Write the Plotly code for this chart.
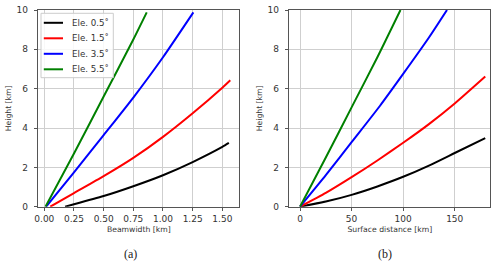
import plotly.graph_objects as go

# ---- data ----
series_names = ["Ele. 0.5˚", "Ele. 1.5˚", "Ele. 3.5˚", "Ele. 5.5˚"]
series_colors = ["#000000", "#ff0000", "#0000ff", "#008000"]

# (a) Beamwidth [km] vs Height [km]
bw_05 = [0.175, 0.25, 0.5, 0.75, 1.0, 1.25, 1.5, 1.555]
h_bw_05 = [0.0, 0.12, 0.54, 1.04, 1.6, 2.27, 3.04, 3.24]
bw_15 = [0.05, 0.25, 0.5, 0.75, 1.0, 1.25, 1.5, 1.567]
h_bw_15 = [0.0, 0.69, 1.55, 2.48, 3.55, 4.75, 6.05, 6.43]
bw_35 = [0.015, 0.25, 0.5, 0.75, 1.0, 1.256]
h_bw_35 = [0.0, 1.74, 3.64, 5.55, 7.6, 9.88]
bw_55 = [0.01, 0.25, 0.5, 0.75, 0.863]
h_bw_55 = [0.0, 2.7, 5.6, 8.5, 9.88]

# (b) Surface distance [km] vs Height [km]
sd_05 = [0, 25, 50, 75, 100, 125, 150, 179.6]
h_sd_05 = [0.0, 0.26, 0.6, 1.03, 1.52, 2.09, 2.73, 3.49]
sd_15 = [0, 25, 50, 75, 100, 125, 150, 179.6]
h_sd_15 = [0.0, 0.7, 1.5, 2.35, 3.25, 4.2, 5.25, 6.62]
sd_35 = [0, 25, 50, 77.4, 100, 125, 142.5]
h_sd_35 = [0.0, 1.6, 3.28, 5.12, 6.75, 8.6, 10.0]
sd_55 = [0, 25, 50, 75, 97.4]
h_sd_55 = [0.0, 2.5, 5.05, 7.6, 10.0]

x_ticks_a = [0.0, 0.25, 0.5, 0.75, 1.0, 1.25, 1.5]
x_ticks_b = [0, 50, 100, 150]
y_ticks = [0, 2, 4, 6, 8, 10]

left_x = [bw_05, bw_15, bw_35, bw_55]
left_y = [h_bw_05, h_bw_15, h_bw_35, h_bw_55]
right_x = [sd_05, sd_15, sd_35, sd_55]
right_y = [h_sd_05, h_sd_15, h_sd_35, h_sd_55]

W, H = 500, 264
fig = go.Figure()

for name, col, xs, ys in zip(series_names, series_colors, left_x, left_y):
    fig.add_trace(go.Scatter(x=xs, y=ys, mode="lines", name=name,
                             line=dict(color=col, width=2, shape="spline", smoothing=0.6),
                             xaxis="x", yaxis="y", showlegend=False))
for name, col, xs, ys in zip(series_names, series_colors, right_x, right_y):
    fig.add_trace(go.Scatter(x=xs, y=ys, mode="lines", name=name,
                             line=dict(color=col, width=2, shape="spline", smoothing=0.6),
                             xaxis="x2", yaxis="y2", showlegend=False))

FONT = "DejaVu Sans"
tick_font = dict(family=FONT, size=9, color="#333333")
title_font = dict(family=FONT, size=7.7, color="#333333")
grid_col = "#cfcfcf"
frame_col = "#555555"

common_axis = dict(showline=True, linecolor=frame_col, linewidth=1, mirror=True,
                   showgrid=True, gridcolor=grid_col, gridwidth=1,
                   ticks="outside", ticklen=3.5, tickcolor=frame_col, tickwidth=1,
                   tickfont=tick_font, zeroline=False, automargin=False)

py0 = (H - 206.7) / H
py1 = (H - 10) / H

def px(x):
    return x / W

def py(y):
    return (H - y) / H

# legend drawn as box + line samples + text labels (matplotlib-like compact legend)
shapes = [dict(type="rect", xref="paper", yref="paper",
               x0=px(41), x1=px(113.3), y0=py(77.7), y1=py(13.3),
               line=dict(color="#cccccc", width=1), fillcolor="rgba(255,255,255,0.85)",
               layer="above")]
annotations = []
row_y = [22.8, 38.3, 53.8, 69.3]
for name, col, ry in zip(series_names, series_colors, row_y):
    shapes.append(dict(type="line", xref="paper", yref="paper",
                       x0=px(43.8), x1=px(63.0), y0=py(ry), y1=py(ry),
                       line=dict(color=col, width=2), layer="above"))
    annotations.append(dict(text=name, x=px(70.3), y=py(ry), xref="paper", yref="paper",
                            showarrow=False, xanchor="left", yanchor="middle",
                            font=dict(family=FONT, size=8.7, color="#333333")))

annotations += [
    dict(text="(a)", x=px(130), y=py(254), xref="paper", yref="paper",
         showarrow=False, xanchor="center", yanchor="middle",
         font=dict(family="Liberation Serif", size=12, color="#222222")),
    dict(text="(b)", x=px(385), y=py(254), xref="paper", yref="paper",
         showarrow=False, xanchor="center", yanchor="middle",
         font=dict(family="Liberation Serif", size=12, color="#222222")),
]

fig.update_layout(
    width=W, height=H,
    margin=dict(l=0, r=0, t=0, b=0),
    paper_bgcolor="white", plot_bgcolor="white",
    showlegend=False,
    xaxis=dict(domain=[px(38.3), px(239.3)], range=[-0.0506, 1.643],
               tickvals=x_ticks_a, ticktext=[f"{v:.2f}" for v in x_ticks_a],
               title=dict(text="Beamwidth [km]", font=title_font, standoff=3),
               anchor="y", **common_axis),
    yaxis=dict(domain=[py0, py1], range=[0, 10], tickvals=y_ticks,
               ticklabelstandoff=4,
               title=dict(text="Height [km]", font=title_font, standoff=3),
               anchor="x", **common_axis),
    xaxis2=dict(domain=[px(289.3), px(490.3)], range=[-10.4, 184.5],
                tickvals=x_ticks_b,
                title=dict(text="Surface distance [km]", font=title_font, standoff=3),
                anchor="y2", **common_axis),
    yaxis2=dict(domain=[py0, py1], range=[0, 10], tickvals=y_ticks,
                ticklabelstandoff=4,
                title=dict(text="Height [km]", font=title_font, standoff=3),
                anchor="x2", **common_axis),
    shapes=shapes,
    annotations=annotations,
)

fig.write_html("out.html", config={"displayModeBar": False},
               post_script="document.body.style.margin='0';document.body.style.overflow='hidden';")
